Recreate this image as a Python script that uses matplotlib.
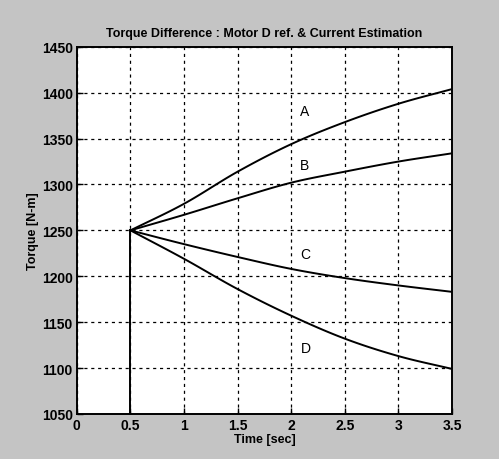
import numpy as np
import matplotlib
matplotlib.use('Agg')
from matplotlib import pyplot as plt

# time samples (sec), curves start at the step at t = 0.5
time = [0.5, 1.0, 1.5, 2.0, 2.5, 3.0, 3.5]
torque_a = [1250, 1279, 1314, 1344, 1368, 1388, 1404]
torque_b = [1250, 1267, 1285, 1302, 1314, 1325, 1334]
torque_c = [1250, 1235, 1221, 1208, 1198, 1190, 1183]
torque_d = [1250, 1219, 1186, 1157, 1132, 1113, 1099]
labels = ['A', 'B', 'C', 'D']
label_pos = [(2.12, 1380), (2.12, 1321), (2.13, 1224), (2.14, 1122)]

xticks = [0, 0.5, 1, 1.5, 2, 2.5, 3, 3.5]
yticks = [1050, 1100, 1150, 1200, 1250, 1300, 1350, 1400, 1450]


def smooth(xs, ys, n=20):
    """catmull-rom through the read points"""
    xs = np.asarray(xs, float)
    ys = np.asarray(ys, float)
    px = np.concatenate([[2 * xs[0] - xs[1]], xs, [2 * xs[-1] - xs[-2]]])
    py = np.concatenate([[2 * ys[0] - ys[1]], ys, [2 * ys[-1] - ys[-2]]])
    out_x, out_y = [], []
    s = np.linspace(0, 1, n, endpoint=False)
    for i in range(1, len(px) - 2):
        for p, o in ((px, out_x), (py, out_y)):
            p0, p1, p2, p3 = p[i - 1], p[i], p[i + 1], p[i + 2]
            o.extend(0.5 * (2 * p1 + (-p0 + p2) * s + (2 * p0 - 5 * p1 + 4 * p2 - p3) * s ** 2
                            + (-p0 + 3 * p1 - 3 * p2 + p3) * s ** 3))
    out_x.append(xs[-1])
    out_y.append(ys[-1])
    return out_x, out_y


plt.rcParams['font.family'] = ['Liberation Sans Narrow', 'Liberation Sans', 'DejaVu Sans']

fig = plt.figure(figsize=(4.99, 4.60), dpi=100, facecolor='#c4c4c4')
ax = fig.add_axes([0.154, 0.098, 0.752, 0.798])

# step up at t = 0.5 (signal is zero before)
ax.plot([0.5, 0.5], [1000, 1250], color='black', lw=1.4)
for series in [torque_a, torque_b, torque_c, torque_d]:
    sx, sy = smooth(time, series)
    ax.plot(sx, sy, color='black', lw=1.4)

for lab, (lx, ly) in zip(labels, label_pos):
    ax.text(lx, ly, lab, fontsize=10, ha='center', va='center')

ax.set_xlim(0, 3.5)
ax.set_ylim(1050, 1450)
ax.set_xticks(xticks)
ax.set_xticklabels(['0', '0.5', '1', '1.5', '2', '2.5', '3', '3.5'])
ax.set_yticks(yticks)
ax.grid(True, color='black', linestyle=(0, (2.5, 3)), linewidth=0.9)
ax.tick_params(direction='in', length=4, labelsize=10, width=1, pad=3)
for lab in ax.get_xticklabels() + ax.get_yticklabels():
    lab.set_fontweight('bold')
for s in ax.spines.values():
    s.set_linewidth(1.4)

ax.set_title('Torque Difference : Motor D ref. & Current Estimation', fontsize=9,
             fontweight='bold', pad=8)
ax.set_xlabel('Time [sec]', fontsize=9, fontweight='bold', labelpad=1)
ax.set_ylabel('Torque [N-m]', fontsize=9, fontweight='bold', labelpad=2)

fig.savefig('out.png', dpi=100, facecolor=fig.get_facecolor())
